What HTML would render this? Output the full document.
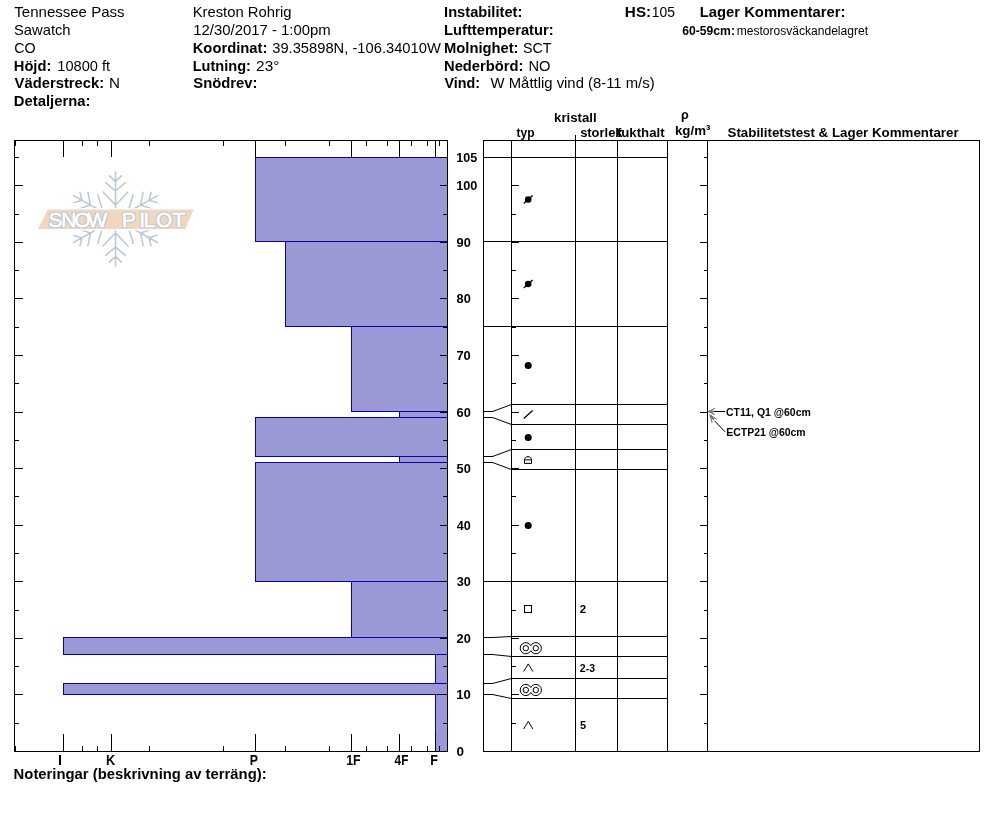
<!DOCTYPE html>
<html><head><meta charset="utf-8"><title>Snow Pilot</title>
<style>html,body{margin:0;padding:0;background:#fff}svg{display:block;font-family:"Liberation Sans",sans-serif}</style>
</head><body>
<svg width="994" height="840" viewBox="0 0 994 840">
<rect x="0" y="0" width="994" height="840" fill="#fff"/>
<text x="14.35" y="16.85" font-size="15" textLength="110.19" lengthAdjust="spacingAndGlyphs" fill="#000" >Tennessee Pass</text>
<text x="13.99" y="34.75" font-size="15" textLength="56.61" lengthAdjust="spacingAndGlyphs" fill="#000" >Sawatch</text>
<text x="14.19" y="52.65" font-size="15" textLength="21.41" lengthAdjust="spacingAndGlyphs" fill="#000" >CO</text>
<text x="13.82" y="70.55" font-size="15" font-weight="bold" textLength="37.47" lengthAdjust="spacingAndGlyphs" fill="#000" >Höjd:</text>
<text x="57.30" y="70.55" font-size="15" textLength="52.78" lengthAdjust="spacingAndGlyphs" fill="#000" >10800 ft</text>
<text x="14.60" y="88.45" font-size="15" font-weight="bold" textLength="89.57" lengthAdjust="spacingAndGlyphs" fill="#000" >Väderstreck:</text>
<text transform="translate(109.06,88.45) scale(1.0118,1)" font-size="15" fill="#000" >N</text>
<text x="13.81" y="106.35" font-size="15" font-weight="bold" textLength="76.57" lengthAdjust="spacingAndGlyphs" fill="#000" >Detaljerna:</text>
<text x="192.64" y="16.85" font-size="15" textLength="98.87" lengthAdjust="spacingAndGlyphs" fill="#000" >Kreston Rohrig</text>
<text x="193.28" y="34.75" font-size="15" textLength="137.42" lengthAdjust="spacingAndGlyphs" fill="#000" >12/30/2017 - 1:00pm</text>
<text x="192.71" y="52.65" font-size="15" font-weight="bold" textLength="74.69" lengthAdjust="spacingAndGlyphs" fill="#000" >Koordinat:</text>
<text x="272.21" y="52.65" font-size="15" textLength="168.63" lengthAdjust="spacingAndGlyphs" fill="#000" >39.35898N, -106.34010W</text>
<text x="192.73" y="70.55" font-size="15" font-weight="bold" textLength="58.18" lengthAdjust="spacingAndGlyphs" fill="#000" >Lutning:</text>
<text x="256.13" y="70.55" font-size="15" textLength="23.22" lengthAdjust="spacingAndGlyphs" fill="#000" >23°</text>
<text x="193.33" y="88.45" font-size="15" font-weight="bold" textLength="64.14" lengthAdjust="spacingAndGlyphs" fill="#000" >Snödrev:</text>
<text x="444.07" y="16.85" font-size="15" font-weight="bold" textLength="78.28" lengthAdjust="spacingAndGlyphs" fill="#000" >Instabilitet:</text>
<text x="624.88" y="16.85" font-size="15" font-weight="bold" textLength="26.27" lengthAdjust="spacingAndGlyphs" fill="#000" >HS:</text>
<text x="651.75" y="16.85" font-size="15" textLength="23.25" lengthAdjust="spacingAndGlyphs" fill="#000" >105</text>
<text x="444.07" y="34.75" font-size="15" font-weight="bold" textLength="109.52" lengthAdjust="spacingAndGlyphs" fill="#000" >Lufttemperatur:</text>
<text x="444.02" y="52.65" font-size="15" font-weight="bold" textLength="74.47" lengthAdjust="spacingAndGlyphs" fill="#000" >Molnighet:</text>
<text x="522.91" y="52.65" font-size="15" textLength="28.53" lengthAdjust="spacingAndGlyphs" fill="#000" >SCT</text>
<text x="444.02" y="70.55" font-size="15" font-weight="bold" textLength="79.29" lengthAdjust="spacingAndGlyphs" fill="#000" >Nederbörd:</text>
<text x="528.50" y="70.55" font-size="15" textLength="22.01" lengthAdjust="spacingAndGlyphs" fill="#000" >NO</text>
<text x="444.60" y="88.45" font-size="15" font-weight="bold" textLength="35.48" lengthAdjust="spacingAndGlyphs" fill="#000" >Vind:</text>
<text x="490.60" y="88.45" font-size="15" textLength="164.03" lengthAdjust="spacingAndGlyphs" fill="#000" >W Måttlig vind (8-11 m/s)</text>
<text x="699.71" y="16.85" font-size="15" font-weight="bold" textLength="145.68" lengthAdjust="spacingAndGlyphs" fill="#000" >Lager Kommentarer:</text>
<text x="682.22" y="34.50" font-size="12" font-weight="bold" textLength="52.75" lengthAdjust="spacingAndGlyphs" fill="#000" >60-59cm:</text>
<text x="736.65" y="34.50" font-size="12" textLength="131.36" lengthAdjust="spacingAndGlyphs" fill="#000" >mestorosväckandelagret</text>
<text x="13.61" y="778.60" font-size="15" font-weight="bold" textLength="252.96" lengthAdjust="spacingAndGlyphs" fill="#000" >Noteringar (beskrivning av terräng):</text>
<path d="M115.5,219.0L115.5,172.1M115.5,181.6L121.5,175.9M115.5,181.6L109.5,175.9M115.5,191.0L125.3,182.6M115.5,191.0L105.7,182.6M115.5,205.0L128.0,192.0M115.5,205.0L103.0,192.0M115.5,219.0L73.5,195.6M82.0,200.3L80.0,192.3M82.0,200.3L73.8,202.6M90.4,205.0L87.9,192.3M90.4,205.0L77.8,209.3M103.0,212.0L97.8,194.7M103.0,212.0L84.8,216.3M115.5,219.0L73.5,242.4M82.0,237.7L73.8,235.4M82.0,237.7L80.0,245.7M90.4,233.0L77.8,228.7M90.4,233.0L87.9,245.7M103.0,226.0L84.8,221.7M103.0,226.0L97.8,243.3M115.5,219.0L115.5,265.9M115.5,256.4L109.5,262.1M115.5,256.4L121.5,262.1M115.5,247.0L105.7,255.4M115.5,247.0L125.3,255.4M115.5,233.0L103.0,246.0M115.5,233.0L128.0,246.0M115.5,219.0L157.5,242.5M149.0,237.7L151.0,245.7M149.0,237.7L157.2,235.4M140.6,233.0L143.1,245.7M140.6,233.0L153.2,228.7M128.0,226.0L133.2,243.3M128.0,226.0L146.2,221.7M115.5,219.0L157.5,195.6M149.0,200.3L157.2,202.6M149.0,200.3L151.0,192.3M140.6,205.0L153.2,209.3M140.6,205.0L143.1,192.3M128.0,212.0L146.2,216.3M128.0,212.0L133.2,194.7" stroke="#bac8d1" stroke-width="1.5" fill="none" stroke-linecap="round"/>
<polygon points="47.7,209.5 193.4,209.5 185.4,229.1 37.9,229.1" fill="#f1d7c0" stroke="#fff" stroke-width="2.6" paint-order="stroke"/>
<filter id="ol" x="-5%" y="-20%" width="110%" height="140%"><feMorphology in="SourceAlpha" operator="dilate" radius="0.7" result="d"/><feFlood flood-color="#c0c9d1"/><feComposite in2="d" operator="in" result="o"/><feMerge><feMergeNode in="o"/><feMergeNode in="SourceGraphic"/></feMerge></filter>
<text x="48.6 61.3 74.2 87.6 118 122.0 139.3 143.6 156.0 172.5" y="227" font-size="21" fill="#fff" stroke="#fff" stroke-width="0.5" filter="url(#ol)">SNOW PILOT</text>
<rect x="255.5" y="157.5" width="192" height="84" fill="#9a99d5" stroke="#0a00aa" stroke-width="1"/>
<rect x="285.5" y="241.5" width="162" height="85" fill="#9a99d5" stroke="#0a00aa" stroke-width="1"/>
<rect x="351.5" y="326.5" width="96" height="85" fill="#9a99d5" stroke="#0a00aa" stroke-width="1"/>
<rect x="399.5" y="411.5" width="48" height="6" fill="#9a99d5" stroke="#0a00aa" stroke-width="1"/>
<rect x="255.5" y="417.5" width="192" height="39" fill="#9a99d5" stroke="#0a00aa" stroke-width="1"/>
<rect x="399.5" y="456.5" width="48" height="6" fill="#9a99d5" stroke="#0a00aa" stroke-width="1"/>
<rect x="255.5" y="462.5" width="192" height="119" fill="#9a99d5" stroke="#0a00aa" stroke-width="1"/>
<rect x="351.5" y="581.5" width="96" height="56" fill="#9a99d5" stroke="#0a00aa" stroke-width="1"/>
<rect x="63.5" y="637.5" width="384" height="17" fill="#9a99d5" stroke="#0a00aa" stroke-width="1"/>
<rect x="435.5" y="654.5" width="12" height="29" fill="#9a99d5" stroke="#0a00aa" stroke-width="1"/>
<rect x="63.5" y="683.5" width="384" height="11" fill="#9a99d5" stroke="#0a00aa" stroke-width="1"/>
<rect x="435.5" y="694.5" width="12" height="57" fill="#9a99d5" stroke="#0a00aa" stroke-width="1"/>
<rect x="14" y="140" width="434" height="1" fill="#000"/>
<rect x="14" y="751" width="434" height="1" fill="#000"/>
<rect x="14" y="140" width="1" height="612" fill="#000"/>
<rect x="447" y="140" width="1" height="612" fill="#000"/>
<rect x="63" y="141" width="1" height="16" fill="#000"/>
<rect x="63" y="734" width="1" height="17" fill="#000"/>
<rect x="111" y="141" width="1" height="16" fill="#000"/>
<rect x="111" y="734" width="1" height="17" fill="#000"/>
<rect x="255" y="141" width="1" height="16" fill="#000"/>
<rect x="255" y="734" width="1" height="17" fill="#000"/>
<rect x="351" y="141" width="1" height="16" fill="#000"/>
<rect x="351" y="734" width="1" height="17" fill="#000"/>
<rect x="399" y="141" width="1" height="16" fill="#000"/>
<rect x="399" y="734" width="1" height="17" fill="#000"/>
<rect x="435" y="141" width="1" height="16" fill="#000"/>
<rect x="435" y="734" width="1" height="17" fill="#000"/>
<rect x="15" y="141" width="1" height="5" fill="#000"/>
<rect x="15" y="746" width="1" height="5" fill="#000"/>
<rect x="82" y="141" width="1" height="5" fill="#000"/>
<rect x="82" y="746" width="1" height="5" fill="#000"/>
<rect x="97" y="141" width="1" height="5" fill="#000"/>
<rect x="97" y="746" width="1" height="5" fill="#000"/>
<rect x="149" y="141" width="1" height="5" fill="#000"/>
<rect x="149" y="746" width="1" height="5" fill="#000"/>
<rect x="223" y="141" width="1" height="5" fill="#000"/>
<rect x="223" y="746" width="1" height="5" fill="#000"/>
<rect x="285" y="141" width="1" height="5" fill="#000"/>
<rect x="285" y="746" width="1" height="5" fill="#000"/>
<rect x="329" y="141" width="1" height="5" fill="#000"/>
<rect x="329" y="746" width="1" height="5" fill="#000"/>
<rect x="366" y="141" width="1" height="5" fill="#000"/>
<rect x="366" y="746" width="1" height="5" fill="#000"/>
<rect x="387" y="141" width="1" height="5" fill="#000"/>
<rect x="387" y="746" width="1" height="5" fill="#000"/>
<rect x="411" y="141" width="1" height="5" fill="#000"/>
<rect x="411" y="746" width="1" height="5" fill="#000"/>
<rect x="427" y="141" width="1" height="5" fill="#000"/>
<rect x="427" y="746" width="1" height="5" fill="#000"/>
<rect x="439" y="141" width="1" height="5" fill="#000"/>
<rect x="439" y="746" width="1" height="5" fill="#000"/>
<rect x="15" y="751" width="8" height="1" fill="#000"/>
<rect x="440" y="751" width="7" height="1" fill="#000"/>
<rect x="15" y="723" width="4" height="1" fill="#000"/>
<rect x="443" y="723" width="4" height="1" fill="#000"/>
<rect x="15" y="694" width="8" height="1" fill="#000"/>
<rect x="440" y="694" width="7" height="1" fill="#000"/>
<rect x="15" y="666" width="4" height="1" fill="#000"/>
<rect x="443" y="666" width="4" height="1" fill="#000"/>
<rect x="15" y="638" width="8" height="1" fill="#000"/>
<rect x="440" y="638" width="7" height="1" fill="#000"/>
<rect x="15" y="610" width="4" height="1" fill="#000"/>
<rect x="443" y="610" width="4" height="1" fill="#000"/>
<rect x="15" y="581" width="8" height="1" fill="#000"/>
<rect x="440" y="581" width="7" height="1" fill="#000"/>
<rect x="15" y="553" width="4" height="1" fill="#000"/>
<rect x="443" y="553" width="4" height="1" fill="#000"/>
<rect x="15" y="525" width="8" height="1" fill="#000"/>
<rect x="440" y="525" width="7" height="1" fill="#000"/>
<rect x="15" y="496" width="4" height="1" fill="#000"/>
<rect x="443" y="496" width="4" height="1" fill="#000"/>
<rect x="15" y="468" width="8" height="1" fill="#000"/>
<rect x="440" y="468" width="7" height="1" fill="#000"/>
<rect x="15" y="440" width="4" height="1" fill="#000"/>
<rect x="443" y="440" width="4" height="1" fill="#000"/>
<rect x="15" y="412" width="8" height="1" fill="#000"/>
<rect x="440" y="412" width="7" height="1" fill="#000"/>
<rect x="15" y="383" width="4" height="1" fill="#000"/>
<rect x="443" y="383" width="4" height="1" fill="#000"/>
<rect x="15" y="355" width="8" height="1" fill="#000"/>
<rect x="440" y="355" width="7" height="1" fill="#000"/>
<rect x="15" y="327" width="4" height="1" fill="#000"/>
<rect x="443" y="327" width="4" height="1" fill="#000"/>
<rect x="15" y="298" width="8" height="1" fill="#000"/>
<rect x="440" y="298" width="7" height="1" fill="#000"/>
<rect x="15" y="270" width="4" height="1" fill="#000"/>
<rect x="443" y="270" width="4" height="1" fill="#000"/>
<rect x="15" y="242" width="8" height="1" fill="#000"/>
<rect x="440" y="242" width="7" height="1" fill="#000"/>
<rect x="15" y="214" width="4" height="1" fill="#000"/>
<rect x="443" y="214" width="4" height="1" fill="#000"/>
<rect x="15" y="185" width="8" height="1" fill="#000"/>
<rect x="440" y="185" width="7" height="1" fill="#000"/>
<rect x="15" y="157" width="4" height="1" fill="#000"/>
<rect x="440" y="157" width="7" height="1" fill="#000"/>
<text x="456.20" y="161.65" font-size="13.5" font-weight="bold" textLength="20.95" lengthAdjust="spacingAndGlyphs" fill="#000" >105</text>
<text x="456.19" y="189.65" font-size="13.5" font-weight="bold" textLength="21.20" lengthAdjust="spacingAndGlyphs" fill="#000" >100</text>
<text x="456.54" y="246.65" font-size="13.5" font-weight="bold" textLength="14.24" lengthAdjust="spacingAndGlyphs" fill="#000" >90</text>
<text x="456.54" y="302.65" font-size="13.5" font-weight="bold" textLength="14.24" lengthAdjust="spacingAndGlyphs" fill="#000" >80</text>
<text x="456.42" y="359.65" font-size="13.5" font-weight="bold" textLength="14.37" lengthAdjust="spacingAndGlyphs" fill="#000" >70</text>
<text x="456.54" y="416.65" font-size="13.5" font-weight="bold" textLength="14.24" lengthAdjust="spacingAndGlyphs" fill="#000" >60</text>
<text x="456.54" y="472.65" font-size="13.5" font-weight="bold" textLength="14.24" lengthAdjust="spacingAndGlyphs" fill="#000" >50</text>
<text x="456.78" y="529.65" font-size="13.5" font-weight="bold" textLength="14.00" lengthAdjust="spacingAndGlyphs" fill="#000" >40</text>
<text x="456.66" y="585.65" font-size="13.5" font-weight="bold" textLength="14.12" lengthAdjust="spacingAndGlyphs" fill="#000" >30</text>
<text x="456.54" y="642.65" font-size="13.5" font-weight="bold" textLength="14.24" lengthAdjust="spacingAndGlyphs" fill="#000" >20</text>
<text x="456.17" y="698.65" font-size="13.5" font-weight="bold" textLength="14.63" lengthAdjust="spacingAndGlyphs" fill="#000" >10</text>
<text transform="translate(456.40,755.65) scale(1.0000,1)" font-size="13.5" font-weight="bold" fill="#000" >0</text>
<text transform="translate(57.94,764.70) scale(0.9778,1)" font-size="14.5" font-weight="bold" fill="#000" >I</text>
<text transform="translate(106.03,764.70) scale(0.8842,1)" font-size="14.5" font-weight="bold" fill="#000" >K</text>
<text transform="translate(249.86,764.70) scale(0.8478,1)" font-size="14.5" font-weight="bold" fill="#000" >P</text>
<text x="346.26" y="764.70" font-size="14.5" font-weight="bold" textLength="14.40" lengthAdjust="spacingAndGlyphs" fill="#000" >1F</text>
<text x="394.60" y="764.70" font-size="14.5" font-weight="bold" textLength="13.74" lengthAdjust="spacingAndGlyphs" fill="#000" >4F</text>
<text transform="translate(430.24,764.70) scale(0.8667,1)" font-size="14.5" font-weight="bold" fill="#000" >F</text>
<rect x="483" y="140" width="497" height="1" fill="#000"/>
<rect x="483" y="751" width="497" height="1" fill="#000"/>
<rect x="483" y="140" width="1" height="612" fill="#000"/>
<rect x="979" y="140" width="1" height="612" fill="#000"/>
<rect x="511" y="140" width="1" height="612" fill="#000"/>
<rect x="575" y="135" width="1" height="617" fill="#000"/>
<rect x="617" y="140" width="1" height="612" fill="#000"/>
<rect x="667" y="140" width="1" height="612" fill="#000"/>
<rect x="707" y="140" width="1" height="612" fill="#000"/>
<rect x="483" y="157" width="185" height="1" fill="#000"/>
<rect x="483" y="241" width="185" height="1" fill="#000"/>
<rect x="483" y="326" width="185" height="1" fill="#000"/>
<rect x="483" y="411" width="10" height="1" fill="#000"/>
<path d="M492.5,411.5L511.5,404.5" stroke="#000" stroke-width="1" fill="none"/>
<rect x="511" y="404" width="157" height="1" fill="#000"/>
<rect x="483" y="417" width="10" height="1" fill="#000"/>
<path d="M492.5,417.5L511.5,424.5" stroke="#000" stroke-width="1" fill="none"/>
<rect x="511" y="424" width="157" height="1" fill="#000"/>
<rect x="483" y="456" width="10" height="1" fill="#000"/>
<path d="M492.5,456.5L511.5,449.5" stroke="#000" stroke-width="1" fill="none"/>
<rect x="511" y="449" width="157" height="1" fill="#000"/>
<rect x="483" y="462" width="10" height="1" fill="#000"/>
<path d="M492.5,462.5L511.5,469.5" stroke="#000" stroke-width="1" fill="none"/>
<rect x="511" y="469" width="157" height="1" fill="#000"/>
<rect x="483" y="581" width="185" height="1" fill="#000"/>
<rect x="483" y="637" width="10" height="1" fill="#000"/>
<path d="M492.5,637.5L511.5,636.5" stroke="#000" stroke-width="1" fill="none"/>
<rect x="511" y="636" width="157" height="1" fill="#000"/>
<rect x="483" y="654" width="10" height="1" fill="#000"/>
<path d="M492.5,654.5L511.5,656.5" stroke="#000" stroke-width="1" fill="none"/>
<rect x="511" y="656" width="157" height="1" fill="#000"/>
<rect x="483" y="683" width="10" height="1" fill="#000"/>
<path d="M492.5,683.5L511.5,678.5" stroke="#000" stroke-width="1" fill="none"/>
<rect x="511" y="678" width="157" height="1" fill="#000"/>
<rect x="483" y="694" width="10" height="1" fill="#000"/>
<path d="M492.5,694.5L511.5,698.5" stroke="#000" stroke-width="1" fill="none"/>
<rect x="511" y="698" width="157" height="1" fill="#000"/>
<rect x="512" y="723" width="4" height="1" fill="#000"/>
<rect x="704" y="723" width="3" height="1" fill="#000"/>
<rect x="512" y="694" width="7" height="1" fill="#000"/>
<rect x="700" y="694" width="7" height="1" fill="#000"/>
<rect x="512" y="666" width="4" height="1" fill="#000"/>
<rect x="704" y="666" width="3" height="1" fill="#000"/>
<rect x="512" y="638" width="7" height="1" fill="#000"/>
<rect x="700" y="638" width="7" height="1" fill="#000"/>
<rect x="512" y="610" width="4" height="1" fill="#000"/>
<rect x="704" y="610" width="3" height="1" fill="#000"/>
<rect x="512" y="581" width="7" height="1" fill="#000"/>
<rect x="700" y="581" width="7" height="1" fill="#000"/>
<rect x="512" y="553" width="4" height="1" fill="#000"/>
<rect x="704" y="553" width="3" height="1" fill="#000"/>
<rect x="512" y="525" width="7" height="1" fill="#000"/>
<rect x="700" y="525" width="7" height="1" fill="#000"/>
<rect x="512" y="496" width="4" height="1" fill="#000"/>
<rect x="704" y="496" width="3" height="1" fill="#000"/>
<rect x="512" y="468" width="7" height="1" fill="#000"/>
<rect x="700" y="468" width="7" height="1" fill="#000"/>
<rect x="512" y="440" width="4" height="1" fill="#000"/>
<rect x="704" y="440" width="3" height="1" fill="#000"/>
<rect x="512" y="412" width="7" height="1" fill="#000"/>
<rect x="700" y="412" width="7" height="1" fill="#000"/>
<rect x="512" y="383" width="4" height="1" fill="#000"/>
<rect x="704" y="383" width="3" height="1" fill="#000"/>
<rect x="512" y="355" width="7" height="1" fill="#000"/>
<rect x="700" y="355" width="7" height="1" fill="#000"/>
<rect x="512" y="327" width="4" height="1" fill="#000"/>
<rect x="704" y="327" width="3" height="1" fill="#000"/>
<rect x="512" y="298" width="7" height="1" fill="#000"/>
<rect x="700" y="298" width="7" height="1" fill="#000"/>
<rect x="512" y="270" width="4" height="1" fill="#000"/>
<rect x="704" y="270" width="3" height="1" fill="#000"/>
<rect x="512" y="242" width="7" height="1" fill="#000"/>
<rect x="700" y="242" width="7" height="1" fill="#000"/>
<rect x="512" y="214" width="4" height="1" fill="#000"/>
<rect x="704" y="214" width="3" height="1" fill="#000"/>
<rect x="512" y="185" width="7" height="1" fill="#000"/>
<rect x="700" y="185" width="7" height="1" fill="#000"/>
<rect x="512" y="157" width="4" height="1" fill="#000"/>
<rect x="704" y="157" width="3" height="1" fill="#000"/>
<text x="516.59" y="136.50" font-size="13.6" font-weight="bold" textLength="18.10" lengthAdjust="spacingAndGlyphs" fill="#000" >typ</text>
<text x="554.05" y="121.50" font-size="13.6" font-weight="bold" textLength="42.65" lengthAdjust="spacingAndGlyphs" fill="#000" >kristall</text>
<text x="580.14" y="136.60" font-size="13.6" font-weight="bold" textLength="42.39" lengthAdjust="spacingAndGlyphs" fill="#000" >storlek</text>
<text x="616.88" y="136.60" font-size="13.6" font-weight="bold" textLength="47.71" lengthAdjust="spacingAndGlyphs" fill="#000" >fukthalt</text>
<text transform="translate(681.11,118.60) scale(0.9241,1)" font-size="13.6" font-weight="bold" fill="#000" >ρ</text>
<text x="674.95" y="135.00" font-size="13.6" font-weight="bold" textLength="35.48" lengthAdjust="spacingAndGlyphs" fill="#000" >kg/m³</text>
<text x="727.53" y="136.50" font-size="13.6" font-weight="bold" textLength="231.09" lengthAdjust="spacingAndGlyphs" fill="#000" >Stabilitetstest &amp; Lager Kommentarer</text>
<circle cx="528.2" cy="199.5" r="3.3" fill="#000"/>
<path d="M523.8000000000001,203.6L532.6,195.4" stroke="#000" stroke-width="1.3" fill="none"/>
<circle cx="528.2" cy="284.0" r="3.3" fill="#000"/>
<path d="M523.8000000000001,288.1L532.6,279.9" stroke="#000" stroke-width="1.3" fill="none"/>
<circle cx="528.2" cy="365.5" r="3.5" fill="#000"/>
<path d="M523.8000000000001,418.6L532.6,410.4" stroke="#000" stroke-width="1.3" fill="none"/>
<circle cx="528.2" cy="437.4" r="3.5" fill="#000"/>
<path d="M524.5,463.4V459.8H531.5V463.4ZM524.5,459.8C524.5,455.6 531.5,455.6 531.5,459.8" stroke="#000" stroke-width="1" fill="none"/>
<circle cx="528.2" cy="525.5" r="3.5" fill="#000"/>
<rect x="524.5" y="605.5" width="7" height="7" stroke="#000" stroke-width="1" fill="none"/>
<path d="M530.80,645.68A5.6,5.6 0 1 0 530.80,650.72A5.6,5.6 0 1 0 530.80,645.68Z" stroke="#000" stroke-width="1" fill="none"/>
<circle cx="525.8" cy="648.20" r="2.7" stroke="#000" stroke-width="1" fill="none"/>
<circle cx="535.8" cy="648.20" r="2.7" stroke="#000" stroke-width="1" fill="none"/>
<path d="M523.6,671.5L528.3,663.9L532.9,671.5" stroke="#000" stroke-width="1" fill="none"/>
<path d="M530.80,687.48A5.6,5.6 0 1 0 530.80,692.52A5.6,5.6 0 1 0 530.80,687.48Z" stroke="#000" stroke-width="1" fill="none"/>
<circle cx="525.8" cy="690.00" r="2.7" stroke="#000" stroke-width="1" fill="none"/>
<circle cx="535.8" cy="690.00" r="2.7" stroke="#000" stroke-width="1" fill="none"/>
<path d="M523.6,729.0L528.3,721.4L532.9,729.0" stroke="#000" stroke-width="1" fill="none"/>
<text transform="translate(579.81,612.80) scale(1.0419,1)" font-size="11" font-weight="bold" fill="#000" >2</text>
<text x="579.84" y="671.70" font-size="11" font-weight="bold" textLength="15.14" lengthAdjust="spacingAndGlyphs" fill="#000" >2-3</text>
<text transform="translate(579.95,728.60) scale(0.9956,1)" font-size="11" font-weight="bold" fill="#000" >5</text>
<path d="M714,411.5H725" stroke="#000" stroke-width="1" fill="none"/>
<path d="M714.8,408.3L708.8,411.5L714.8,414.7" stroke="#777" stroke-width="1.1" fill="none"/><path d="M709,411.5H713.8" stroke="#777" stroke-width="2.2" fill="none"/>
<path d="M714.5,420.8L725,431.8" stroke="#000" stroke-width="1" fill="none"/>
<path d="M716.8,419.4L710.1,415.2L712.2,422.8" stroke="#777" stroke-width="1.1" fill="none"/><path d="M710.4,415.5L714,419.4" stroke="#777" stroke-width="2.2" fill="none"/>
<text x="726.04" y="415.80" font-size="11" font-weight="bold" textLength="84.74" lengthAdjust="spacingAndGlyphs" fill="#000" >CT11, Q1 @60cm</text>
<text x="726.21" y="435.60" font-size="11" font-weight="bold" textLength="79.48" lengthAdjust="spacingAndGlyphs" fill="#000" >ECTP21 @60cm</text>
</svg>
</body></html>
